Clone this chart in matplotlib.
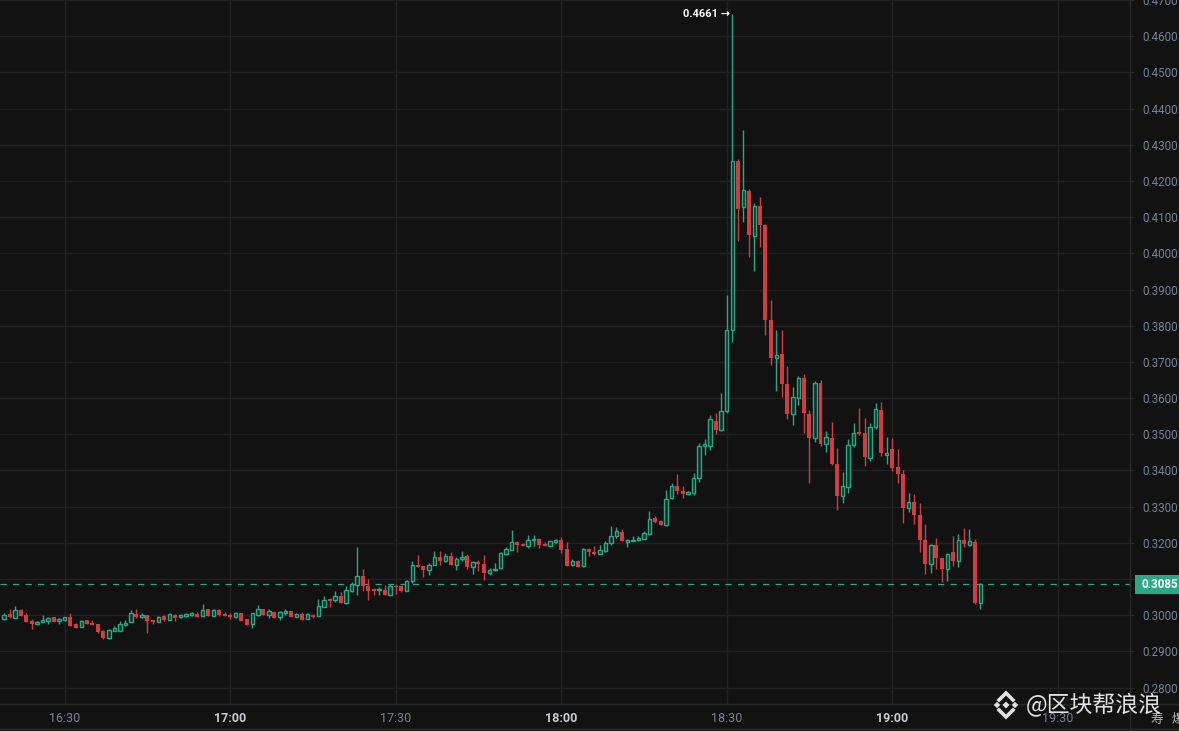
import matplotlib
matplotlib.use("Agg")
import matplotlib.pyplot as plt
import numpy as np
from matplotlib.patches import Rectangle, Polygon
from matplotlib.lines import Line2D

# ---------------- data (1-minute candles, 16:19 -> 19:16) ----------------
start_minute = 19          # minutes after 16:00 of the first candle
opens = [
    0.2989, 0.3003, 0.2993, 0.3015, 0.3000, 0.2983, 0.2977, 0.2980, 0.2983, 0.2994,
    0.2983, 0.2986, 0.2994, 0.2975, 0.2968, 0.2986, 0.2978, 0.2975, 0.2956, 0.2938,
    0.2957, 0.2957, 0.2974, 0.2980, 0.3003, 0.2995, 0.3000, 0.2986, 0.2980, 0.2997,
    0.2986, 0.3000, 0.2995, 0.2997, 0.3001, 0.3004, 0.2999, 0.3016, 0.2999, 0.3014,
    0.3004, 0.3000, 0.2996, 0.3005, 0.2989, 0.2975, 0.3001, 0.3017, 0.3001, 0.3009,
    0.2994, 0.3006, 0.3011, 0.2995, 0.3003, 0.2990, 0.3001, 0.2998, 0.3023, 0.3045,
    0.3041, 0.3052, 0.3034, 0.3067, 0.3083, 0.3108, 0.3082, 0.3073, 0.3069, 0.3071,
    0.3057, 0.3082, 0.3080, 0.3066, 0.3094, 0.3140, 0.3137, 0.3126, 0.3140, 0.3161,
    0.3149, 0.3165, 0.3138, 0.3155, 0.3163, 0.3132, 0.3146, 0.3142, 0.3117, 0.3124,
    0.3130, 0.3169, 0.3181, 0.3202, 0.3198, 0.3190, 0.3207, 0.3211, 0.3198, 0.3190,
    0.3202, 0.3209, 0.3182, 0.3138, 0.3150, 0.3136, 0.3182, 0.3176, 0.3170, 0.3177,
    0.3200, 0.3218, 0.3230, 0.3203, 0.3206, 0.3208, 0.3211, 0.3225, 0.3268, 0.3259,
    0.3248, 0.3323, 0.3358, 0.3343, 0.3334, 0.3338, 0.3379, 0.3467, 0.3467, 0.3537,
    0.3511, 0.3565, 0.3787, 0.4255, 0.4128, 0.4173, 0.4049, 0.4131, 0.4078, 0.3815,
    0.3712, 0.3723, 0.3640, 0.3556, 0.3601, 0.3656, 0.3557, 0.3490, 0.3643, 0.3474,
    0.3490, 0.3418, 0.3329, 0.3355, 0.3469, 0.3507, 0.3503, 0.3435, 0.3519, 0.3568,
    0.3442, 0.3459, 0.3409, 0.3389, 0.3295, 0.3314, 0.3278, 0.3207, 0.3142, 0.3195,
    0.3159, 0.3127, 0.3174, 0.3150, 0.3207, 0.3195, 0.3201, 0.3033,
]
highs = [
    0.3005, 0.3017, 0.3026, 0.3017, 0.3007, 0.2990, 0.2983, 0.3002, 0.2994, 0.2994,
    0.2993, 0.2995, 0.3006, 0.2979, 0.2986, 0.2988, 0.2986, 0.2977, 0.2959, 0.2961,
    0.2969, 0.2984, 0.2986, 0.3014, 0.3016, 0.3006, 0.3002, 0.2986, 0.2998, 0.3000,
    0.3005, 0.3003, 0.3003, 0.3007, 0.3010, 0.3008, 0.3032, 0.3017, 0.3016, 0.3017,
    0.3009, 0.3005, 0.3009, 0.3007, 0.2989, 0.3007, 0.3028, 0.3017, 0.3016, 0.3012,
    0.3012, 0.3016, 0.3013, 0.3006, 0.3010, 0.3005, 0.3003, 0.3046, 0.3052, 0.3048,
    0.3067, 0.3064, 0.3081, 0.3092, 0.3189, 0.3129, 0.3101, 0.3074, 0.3077, 0.3084,
    0.3087, 0.3086, 0.3082, 0.3098, 0.3149, 0.3167, 0.3137, 0.3143, 0.3178, 0.3178,
    0.3172, 0.3174, 0.3162, 0.3178, 0.3168, 0.3149, 0.3152, 0.3167, 0.3131, 0.3144,
    0.3176, 0.3188, 0.3236, 0.3206, 0.3200, 0.3221, 0.3221, 0.3213, 0.3202, 0.3206,
    0.3211, 0.3216, 0.3203, 0.3156, 0.3152, 0.3186, 0.3185, 0.3191, 0.3195, 0.3205,
    0.3246, 0.3243, 0.3237, 0.3211, 0.3220, 0.3219, 0.3232, 0.3287, 0.3274, 0.3263,
    0.3347, 0.3366, 0.3389, 0.3358, 0.3343, 0.3394, 0.3476, 0.3486, 0.3552, 0.3558,
    0.3613, 0.3884, 0.4661, 0.4261, 0.4340, 0.4177, 0.4139, 0.4156, 0.4080, 0.3870,
    0.3789, 0.3789, 0.3689, 0.3632, 0.3660, 0.3667, 0.3568, 0.3648, 0.3651, 0.3510,
    0.3535, 0.3462, 0.3395, 0.3487, 0.3531, 0.3572, 0.3546, 0.3531, 0.3586, 0.3589,
    0.3493, 0.3490, 0.3459, 0.3401, 0.3339, 0.3334, 0.3311, 0.3253, 0.3198, 0.3214,
    0.3159, 0.3173, 0.3219, 0.3224, 0.3242, 0.3239, 0.3210, 0.3090,
]
lows = [
    0.2986, 0.2991, 0.2993, 0.2998, 0.2980, 0.2961, 0.2975, 0.2980, 0.2977, 0.2982,
    0.2976, 0.2983, 0.2970, 0.2966, 0.2968, 0.2975, 0.2972, 0.2951, 0.2935, 0.2933,
    0.2957, 0.2957, 0.2970, 0.2980, 0.2991, 0.2991, 0.2952, 0.2977, 0.2980, 0.2984,
    0.2986, 0.2984, 0.2993, 0.2995, 0.2997, 0.2995, 0.2999, 0.2998, 0.2998, 0.2999,
    0.2997, 0.2990, 0.2993, 0.2984, 0.2973, 0.2966, 0.2999, 0.3001, 0.2991, 0.2992,
    0.2988, 0.3000, 0.2994, 0.2994, 0.2986, 0.2989, 0.2993, 0.2997, 0.3023, 0.3023,
    0.3037, 0.3034, 0.3032, 0.3065, 0.3057, 0.3067, 0.3043, 0.3057, 0.3057, 0.3057,
    0.3057, 0.3060, 0.3064, 0.3066, 0.3090, 0.3132, 0.3107, 0.3112, 0.3140, 0.3138,
    0.3147, 0.3138, 0.3124, 0.3149, 0.3128, 0.3114, 0.3121, 0.3098, 0.3112, 0.3121,
    0.3128, 0.3167, 0.3179, 0.3176, 0.3191, 0.3186, 0.3190, 0.3186, 0.3190, 0.3190,
    0.3200, 0.3171, 0.3135, 0.3135, 0.3133, 0.3134, 0.3163, 0.3166, 0.3168, 0.3175,
    0.3194, 0.3214, 0.3205, 0.3189, 0.3205, 0.3205, 0.3211, 0.3223, 0.3254, 0.3248,
    0.3246, 0.3321, 0.3334, 0.3323, 0.3331, 0.3333, 0.3368, 0.3444, 0.3457, 0.3500,
    0.3509, 0.3558, 0.3756, 0.4034, 0.4087, 0.3990, 0.3951, 0.4018, 0.3775, 0.3691,
    0.3619, 0.3603, 0.3541, 0.3527, 0.3580, 0.3503, 0.3365, 0.3480, 0.3468, 0.3450,
    0.3415, 0.3290, 0.3310, 0.3337, 0.3465, 0.3497, 0.3413, 0.3426, 0.3514, 0.3441,
    0.3418, 0.3399, 0.3364, 0.3256, 0.3286, 0.3253, 0.3175, 0.3114, 0.3116, 0.3128,
    0.3091, 0.3094, 0.3136, 0.3134, 0.3188, 0.3190, 0.3031, 0.3016,
]
closes = [
    0.3002, 0.2995, 0.3014, 0.2998, 0.2982, 0.2976, 0.2980, 0.2986, 0.2991, 0.2982,
    0.2989, 0.2994, 0.2971, 0.2966, 0.2984, 0.2975, 0.2972, 0.2954, 0.2937, 0.2959,
    0.2966, 0.2977, 0.2979, 0.3005, 0.2994, 0.3000, 0.2983, 0.2982, 0.2995, 0.2986,
    0.3003, 0.2991, 0.3000, 0.3003, 0.3006, 0.2995, 0.3014, 0.2999, 0.3014, 0.3000,
    0.2998, 0.2995, 0.3006, 0.2985, 0.2973, 0.3005, 0.3017, 0.3001, 0.3011, 0.2993,
    0.3008, 0.3012, 0.2995, 0.3003, 0.2987, 0.3003, 0.2995, 0.3025, 0.3043, 0.3039,
    0.3052, 0.3034, 0.3069, 0.3086, 0.3108, 0.3081, 0.3067, 0.3068, 0.3073, 0.3057,
    0.3082, 0.3077, 0.3066, 0.3094, 0.3140, 0.3132, 0.3126, 0.3140, 0.3161, 0.3151,
    0.3165, 0.3140, 0.3156, 0.3161, 0.3132, 0.3146, 0.3141, 0.3118, 0.3126, 0.3129,
    0.3172, 0.3184, 0.3202, 0.3195, 0.3192, 0.3209, 0.3211, 0.3195, 0.3190, 0.3204,
    0.3209, 0.3180, 0.3137, 0.3150, 0.3133, 0.3182, 0.3174, 0.3168, 0.3179, 0.3200,
    0.3220, 0.3232, 0.3205, 0.3209, 0.3209, 0.3213, 0.3226, 0.3266, 0.3257, 0.3250,
    0.3322, 0.3357, 0.3343, 0.3334, 0.3341, 0.3380, 0.3467, 0.3472, 0.3541, 0.3511,
    0.3565, 0.3787, 0.4255, 0.4123, 0.4176, 0.4050, 0.4131, 0.4078, 0.3815, 0.3712,
    0.3720, 0.3640, 0.3556, 0.3602, 0.3656, 0.3560, 0.3490, 0.3643, 0.3474, 0.3492,
    0.3418, 0.3329, 0.3356, 0.3469, 0.3503, 0.3501, 0.3438, 0.3520, 0.3570, 0.3447,
    0.3449, 0.3406, 0.3389, 0.3295, 0.3314, 0.3278, 0.3207, 0.3142, 0.3195, 0.3159,
    0.3127, 0.3170, 0.3150, 0.3209, 0.3196, 0.3204, 0.3033, 0.3085,
]
price_ticks = [0.28, 0.29, 0.30, 0.31, 0.32, 0.33, 0.34, 0.35, 0.36, 0.37,
               0.38, 0.39, 0.40, 0.41, 0.42, 0.43, 0.44, 0.45, 0.46, 0.47]
time_ticks = [30, 60, 90, 120, 150, 180, 210]
time_labels = ["16:30", "17:00", "17:30", "18:00", "18:30", "19:00", "19:30"]
last_price = 0.3085
peak_price = 0.4661
watermark = "@区块帮浪浪"

# ---------------- styling ----------------
BG = "#121212"
GRID = "#222222"
SEP = "#2a2a2a"
GREEN = "#2aa784"
GREEN_FILL = "#13302a"
RED = "#d23c40"
TICK = "#75829a"
FONT = ["Roboto", "DejaVu Sans"]
CJK = ["Noto Sans CJK SC", "DejaVu Sans"]

W, H = 1179, 731
fig = plt.figure(figsize=(W / 100, H / 100), dpi=100)
fig.patch.set_facecolor(BG)

def fx(px):
    return px / W

def fy(py):
    return 1 - py / H

plot_right = 1130
plot_bottom = 704
ax = fig.add_axes([0, fy(plot_bottom), fx(plot_right), plot_bottom / H])
ax.set_facecolor(BG)
ax.set_xlim(18.27, 223.1)
ax.set_ylim(0.27547, 0.4700)
for s in ax.spines.values():
    s.set_visible(False)

o = np.array(opens); h = np.array(highs); l = np.array(lows); c = np.array(closes)
x = start_minute + np.arange(len(o))
up = c >= o
dn = ~up

# grid
for t in time_ticks:
    ax.axvline(t, color=GRID, lw=1, zorder=0)
for p in price_ticks:
    ax.axhline(p, color=GRID, lw=1, zorder=0)

# wicks
ax.vlines(x[up], l[up], h[up], color=GREEN, lw=1.0, zorder=2)
ax.vlines(x[dn], l[dn], h[dn], color=RED, lw=1.0, zorder=2)
# bodies
minh = 0.00025
ax.bar(x[up], np.maximum(c[up] - o[up], minh), bottom=o[up], width=0.62,
       facecolor=GREEN_FILL, edgecolor=GREEN, linewidth=1.0, zorder=3)
ax.bar(x[dn], np.maximum(o[dn] - c[dn], minh), bottom=c[dn], width=0.72,
       color=RED, linewidth=0, zorder=3)

# last price dashed line
ax.axhline(last_price, color=GREEN, lw=0.9, ls=(0, (5, 5)), zorder=1)

# peak annotation
ipk = int(np.argmax(h))
ax.text(x[ipk] - 0.35, peak_price, f"{peak_price:.4f} \u2192", ha="right", va="center",
        color="white", fontsize=8, fontweight="bold", family=FONT, zorder=5)

# y axis on right
ax.yaxis.tick_right()
ax.set_yticks(price_ticks)
ax.set_yticklabels(["" if abs(p - 0.31) < 1e-9 else f"{p:.4f}" for p in price_ticks],
                   family=FONT, fontsize=8.4, color=TICK)
ax.tick_params(axis="y", length=3, color=SEP, pad=6)

# x axis
ax.set_xticks(time_ticks)
ax.set_xticklabels(time_labels, family=FONT, fontsize=9, color=TICK)
ax.tick_params(axis="x", length=0, pad=6)
for lab in ax.get_xticklabels():
    if lab.get_text().endswith(":00"):
        lab.set_fontweight("bold")
        lab.set_color("#c8ccd4")

# separators
fig.add_artist(Line2D([fx(plot_right), fx(plot_right)], [0, 1], color=SEP, lw=1,
                      transform=fig.transFigure))
fig.add_artist(Line2D([0, 1], [fy(plot_bottom), fy(plot_bottom)], color=SEP, lw=1,
                      transform=fig.transFigure))
fig.add_artist(Line2D([0, 1], [fy(729), fy(729)], color=SEP, lw=1,
                      transform=fig.transFigure))

# last price box
fig.add_artist(Rectangle((fx(1135), fy(594)), fx(W - 1135), 19 / H,
                         transform=fig.transFigure, facecolor=GREEN, edgecolor="none",
                         zorder=4))
fig.text(fx(1141), fy(584.5), f"{last_price:.4f}", ha="left", va="center",
         color="white", fontsize=8.4, fontweight="bold", family=FONT, zorder=5)

# bottom-right fragments
fig.text(fx(1150), fy(719), "寿", ha="left", va="center", color="#bfbfbf", fontsize=9,
         family=CJK, zorder=5)
fig.text(fx(1172), fy(719), "爆", ha="left", va="center", color="#bfbfbf", fontsize=9,
         family=CJK, zorder=5)

# watermark (logo + text)
WM = (1, 1, 1, 0.88)
cx, cy = 1006, 705
def diamond(px_, py_, r):
    pts = [(fx(px_), fy(py_ - r)), (fx(px_ + r), fy(py_)), (fx(px_), fy(py_ + r)), (fx(px_ - r), fy(py_))]
    fig.add_artist(Polygon(pts, closed=True, transform=fig.transFigure, facecolor=WM,
                           edgecolor="none", zorder=6))
diamond(cx, cy, 3.5)
diamond(cx - 9, cy, 3.2)
diamond(cx + 9, cy, 3.2)
for sgn in (-1, 1):
    pts = [(fx(cx - 7), fy(cy + sgn * 5)), (fx(cx), fy(cy + sgn * 12)), (fx(cx + 7), fy(cy + sgn * 5))]
    fig.add_artist(Line2D([p[0] for p in pts], [p[1] for p in pts], color=WM, lw=2.6,
                          transform=fig.transFigure, zorder=6, solid_joinstyle="miter"))
fig.text(fx(1026), fy(705), watermark, ha="left", va="center", color=WM, fontsize=16.5,
         family=CJK, zorder=6)

fig.savefig("out.png", dpi=100, facecolor=BG)
